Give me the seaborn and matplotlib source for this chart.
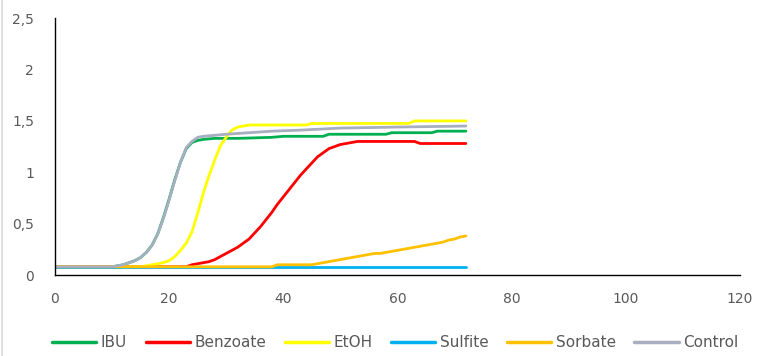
import numpy as np
import pandas as pd
import matplotlib
matplotlib.use("Agg")
import matplotlib.pyplot as plt
import seaborn as sns
from matplotlib.lines import Line2D

# Optical density over time (hours) for each treatment
series_names = ["IBU", "Benzoate", "EtOH", "Sulfite", "Sorbate", "Control"]

ibu_t = [0, 10, 11, 12, 13, 14, 15, 16, 17, 18, 19, 20, 21, 22, 23, 24, 25, 26, 28,
         32, 38, 40, 47, 48, 58, 59, 66, 67, 72]
ibu_y = [0.08, 0.08, 0.09, 0.10, 0.12, 0.14, 0.17, 0.22, 0.29, 0.40, 0.56, 0.74, 0.93,
         1.10, 1.23, 1.29, 1.31, 1.32, 1.33, 1.33, 1.34, 1.35, 1.35, 1.37, 1.37, 1.385,
         1.385, 1.40, 1.40]

benz_t = [0, 23, 24, 25, 26, 27, 28, 29, 30, 31, 32, 33, 34, 35, 36, 37, 38, 39, 40,
          41, 42, 43, 44, 45, 46, 47, 48, 49, 50, 51, 52, 53, 63, 64, 72]
benz_y = [0.08, 0.08, 0.10, 0.11, 0.12, 0.13, 0.15, 0.18, 0.21, 0.24, 0.27, 0.31, 0.35,
          0.41, 0.47, 0.54, 0.61, 0.69, 0.76, 0.83, 0.90, 0.97, 1.03, 1.09, 1.15, 1.19,
          1.23, 1.25, 1.27, 1.28, 1.29, 1.30, 1.30, 1.28, 1.28]

etoh_t = [0, 15, 16, 17, 18, 19, 20, 21, 22, 23, 24, 25, 26, 27, 28, 29, 30, 31, 32,
          33, 34, 44, 45, 62, 63, 72]
etoh_y = [0.08, 0.08, 0.09, 0.10, 0.11, 0.12, 0.14, 0.18, 0.24, 0.31, 0.42, 0.60, 0.80,
          0.97, 1.12, 1.26, 1.34, 1.41, 1.44, 1.45, 1.46, 1.46, 1.475, 1.475, 1.50, 1.50]

sulf_t = [0, 72]
sulf_y = [0.08, 0.08]

sorb_t = [0, 38, 39, 45, 46, 47, 48, 49, 50, 51, 52, 53, 54, 55, 56, 57, 58, 59, 60,
          61, 62, 63, 64, 65, 66, 67, 68, 69, 70, 71, 72]
sorb_y = [0.08, 0.08, 0.10, 0.10, 0.11, 0.12, 0.13, 0.14, 0.15, 0.16, 0.17, 0.18, 0.19,
          0.20, 0.21, 0.21, 0.22, 0.23, 0.24, 0.25, 0.26, 0.27, 0.28, 0.29, 0.30, 0.31,
          0.32, 0.34, 0.35, 0.37, 0.38]

ctrl_t = [0, 10, 11, 12, 13, 14, 15, 16, 17, 18, 19, 20, 21, 22, 23, 24, 25, 26, 28,
          30, 34, 38, 43, 50, 60, 72]
ctrl_y = [0.08, 0.08, 0.09, 0.10, 0.12, 0.14, 0.17, 0.22, 0.29, 0.40, 0.55, 0.73, 0.92,
          1.10, 1.24, 1.30, 1.34, 1.35, 1.36, 1.37, 1.385, 1.40, 1.41, 1.43, 1.44, 1.45]

x_ticks = [0, 20, 40, 60, 80, 100, 120]
y_ticks = [0, 0.5, 1, 1.5, 2, 2.5]
y_tick_labels = ["0", "0,5", "1", "1,5", "2", "2,5"]

colors = {
    "IBU": "#00B050",
    "Benzoate": "#FF0000",
    "EtOH": "#FFFF00",
    "Sulfite": "#00B0F0",
    "Sorbate": "#FFC000",
    "Control": "#A6AEBF",
}

frames = []
for name, t, y in [("IBU", ibu_t, ibu_y), ("Benzoate", benz_t, benz_y),
                   ("EtOH", etoh_t, etoh_y), ("Sulfite", sulf_t, sulf_y),
                   ("Sorbate", sorb_t, sorb_y), ("Control", ctrl_t, ctrl_y)]:
    frames.append(pd.DataFrame({"time": t, "od": y, "series": name}))
df = pd.concat(frames, ignore_index=True)

sns.set_theme(style="white")
plt.rcParams["font.family"] = ["DejaVu Sans"]

fig = plt.figure(figsize=(7.66, 3.56), dpi=100)
ax = fig.add_axes([0.0718, 0.2275, 0.894, 0.7215])

sns.lineplot(data=df, x="time", y="od", hue="series", hue_order=series_names,
             palette=colors, linewidth=2.0, ax=ax, legend=False,
             estimator=None, sort=True)

ax.set_xlim(0, 120)
ax.set_ylim(0, 2.5)
ax.set_xticks(x_ticks)
ax.set_xticklabels([str(v) for v in x_ticks])
ax.set_yticks(y_ticks)
ax.set_yticklabels(y_tick_labels)
ax.set_xlabel("")
ax.set_ylabel("")

for side in ["top", "right"]:
    ax.spines[side].set_visible(False)
for side in ["left", "bottom"]:
    ax.spines[side].set_color("#000000")
    ax.spines[side].set_linewidth(1.0)

ax.tick_params(axis="both", which="major", direction="out", length=5, width=1,
               color="#000000", labelsize=10, labelcolor="#595959")
ax.tick_params(axis="x", pad=7)
ax.tick_params(axis="y", pad=10)
ax.grid(False)

handles = [Line2D([0], [0], color=colors[n], lw=2.5) for n in series_names]
fig.legend(handles, series_names, loc="center", bbox_to_anchor=(0.516, 0.037),
           ncol=6, frameon=False, fontsize=11, handlelength=2.9,
           handletextpad=0.3, columnspacing=1.2, labelcolor="#595959")

# light border on the left edge of the chart area
fig.add_artist(Line2D([0.003, 0.003], [0, 1], transform=fig.transFigure,
                      color="#D9D9D9", lw=1.2))

fig.savefig("out.png", dpi=100)
